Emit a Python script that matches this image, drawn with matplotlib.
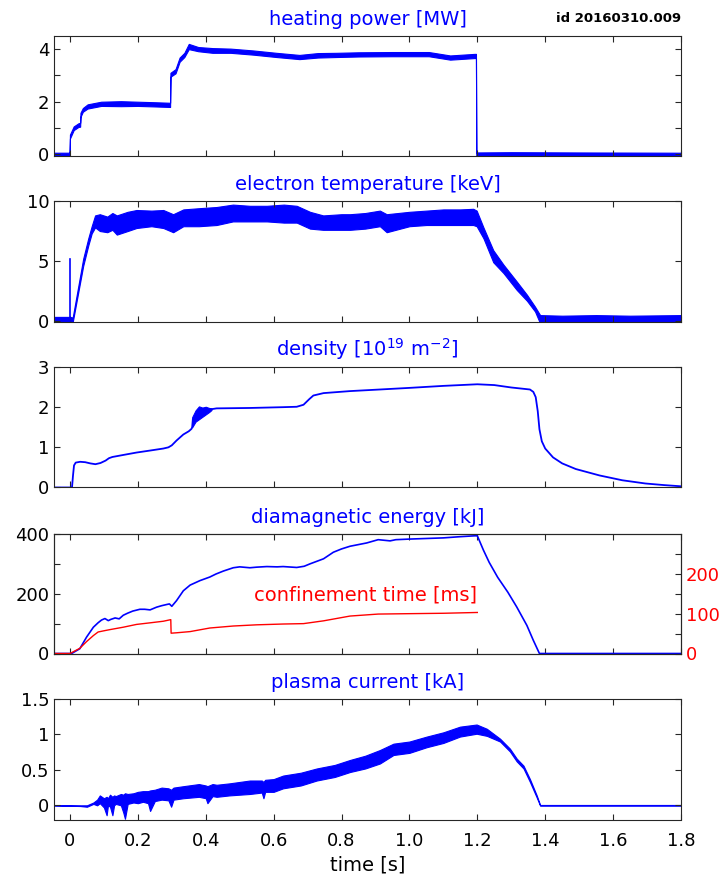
import numpy as np
import matplotlib
matplotlib.use('Agg')
import matplotlib.pyplot as plt

plt.rcParams['font.family'] = 'DejaVu Sans'

BLUE = '#0000ff'
RED = '#ff0000'
INK = '#262626'

# ── heating power [MW]: time, lower / upper edge of the noisy trace ──────────
p_t  = [-0.05, -0.001, 0.0, 0.011, 0.025, 0.030, 0.031, 0.038, 0.052, 0.092, 0.15,
        0.20, 0.25, 0.295, 0.296, 0.311, 0.323, 0.337, 0.350, 0.378, 0.42, 0.473,
        0.54, 0.608, 0.676, 0.73, 0.785, 0.85, 0.948, 1.057, 1.12, 1.192, 1.196,
        1.197, 1.3, 1.5, 1.8]
p_lo = [-0.06, -0.06, 0.6, 0.92, 1.04, 1.05, 1.42, 1.62, 1.74, 1.84, 1.83,
        1.84, 1.82, 1.80, 2.95, 3.08, 3.52, 3.70, 4.00, 3.92, 3.86, 3.86,
        3.79, 3.70, 3.62, 3.68, 3.70, 3.72, 3.73, 3.73, 3.60, 3.66, 3.66,
        -0.06, -0.07, -0.06, -0.06]
p_hi = [0.06, 0.06, 0.75, 1.06, 1.18, 1.20, 1.58, 1.76, 1.90, 2.00, 2.02,
        2.00, 1.98, 1.96, 3.10, 3.24, 3.68, 3.86, 4.20, 4.08, 4.04, 4.02,
        3.95, 3.86, 3.78, 3.85, 3.86, 3.88, 3.89, 3.89, 3.76, 3.82, 3.82,
        0.07, 0.08, 0.07, 0.06]

# ── electron temperature [keV] ───────────────────────────────────────────────
te_t  = [-0.05, 0.0, 0.008, 0.039, 0.054, 0.064, 0.074, 0.088, 0.11, 0.125, 0.138,
         0.17, 0.196, 0.24, 0.275, 0.304, 0.334, 0.38, 0.432, 0.48, 0.53, 0.58,
         0.63, 0.668, 0.707, 0.746, 0.80, 0.825, 0.87, 0.913, 0.933, 1.0, 1.05,
         1.10, 1.15, 1.188, 1.198, 1.218, 1.247, 1.277, 1.316, 1.346, 1.37,
         1.385, 1.45, 1.55, 1.65, 1.8]
te_lo = [-0.2, -0.2, -0.1, 4.6, 6.3, 7.3, 7.8, 7.5, 7.4, 7.6, 7.2,
         7.5, 7.75, 7.9, 7.75, 7.4, 7.9, 7.9, 8.0, 8.3, 8.3, 8.3,
         8.2, 8.2, 7.7, 7.6, 7.6, 7.6, 7.7, 7.9, 7.4, 7.9, 8.0,
         8.0, 8.0, 8.0, 7.9, 6.9, 4.9, 4.0, 2.6, 1.7, 0.8,
         -0.2, -0.2, -0.2, -0.2, -0.2]
te_hi = [0.35, 0.35, 0.3, 5.2, 6.9, 7.9, 8.8, 8.9, 8.7, 9.0, 8.8,
         9.1, 9.25, 9.2, 9.25, 8.9, 9.3, 9.4, 9.5, 9.7, 9.6, 9.6,
         9.7, 9.6, 9.1, 8.8, 8.9, 8.9, 9.0, 9.2, 8.9, 9.1, 9.2,
         9.3, 9.3, 9.35, 9.2, 7.8, 5.9, 4.7, 3.3, 2.2, 1.2,
         0.5, 0.45, 0.5, 0.45, 0.5]
te_spike_t = [0.0, 0.0]
te_spike_v = [0.0, 5.2]

# ── density [1e19 m^-2] ──────────────────────────────────────────────────────
ne_t = [-0.05, 0.006, 0.009, 0.012, 0.017, 0.03, 0.045, 0.06, 0.075, 0.09, 0.105,
        0.115, 0.125, 0.157, 0.196, 0.236, 0.275, 0.29, 0.30, 0.314, 0.334, 0.35,
        0.358, 0.36, 0.362, 0.417, 0.432, 0.53, 0.628, 0.668, 0.688, 0.705, 0.717,
        0.747, 0.825, 0.913, 1.0, 1.1, 1.2, 1.25, 1.30, 1.355, 1.365, 1.372,
        1.378, 1.383, 1.39, 1.40, 1.423, 1.45, 1.49, 1.56, 1.627, 1.695, 1.75, 1.8]
ne_v = [0.0, 0.0, 0.3, 0.55, 0.62, 0.64, 0.63, 0.60, 0.58, 0.61, 0.67,
        0.73, 0.76, 0.81, 0.87, 0.92, 0.97, 1.0, 1.05, 1.17, 1.32, 1.40,
        1.46, 1.50, 1.70, 1.95, 1.97, 1.98, 2.0, 2.01, 2.06, 2.2, 2.29,
        2.35, 2.40, 2.44, 2.48, 2.53, 2.57, 2.55, 2.49, 2.44, 2.38, 2.25,
        1.9, 1.45, 1.15, 0.97, 0.75, 0.60, 0.46, 0.30, 0.18, 0.10, 0.06, 0.03]
ne_noise_t  = [0.36, 0.37, 0.38, 0.39, 0.40, 0.41, 0.417]
ne_noise_lo = [1.50, 1.64, 1.70, 1.76, 1.82, 1.88, 1.93]
ne_noise_hi = [1.75, 1.92, 2.02, 1.99, 2.01, 1.98, 1.97]

# ── diamagnetic energy [kJ] and confinement time [ms] ────────────────────────
w_t = [-0.05, 0.005, 0.029, 0.049, 0.069, 0.083, 0.093, 0.103, 0.113, 0.12, 0.133,
       0.145, 0.157, 0.17, 0.185, 0.206, 0.22, 0.236, 0.255, 0.27, 0.285, 0.293,
       0.30, 0.314, 0.334, 0.354, 0.383, 0.412, 0.43, 0.452, 0.481, 0.50, 0.53,
       0.55, 0.58, 0.61, 0.628, 0.668, 0.69, 0.707, 0.747, 0.776, 0.80, 0.825,
       0.874, 0.908, 0.943, 0.96, 1.0, 1.05, 1.1, 1.149, 1.193, 1.20, 1.218,
       1.235, 1.26, 1.29, 1.316, 1.346, 1.365, 1.383, 1.8]
w_v = [0, 0, 16, 55, 88, 103, 112, 117, 110, 114, 119,
       116, 128, 135, 142, 148, 148, 146, 155, 160, 164, 166,
       158, 177, 210, 229, 244, 256, 266, 276, 287, 290, 287,
       289, 291, 290, 291, 288, 292, 300, 317, 339, 350, 359,
       370, 381, 377, 381, 383, 385, 387, 391, 394, 394, 346,
       305, 255, 205, 156, 94, 44, 0, 0]
tau_t = [-0.05, 0.0, 0.029, 0.049, 0.069, 0.083, 0.10, 0.118, 0.157, 0.196, 0.236,
         0.275, 0.297, 0.298, 0.314, 0.354, 0.412, 0.481, 0.55, 0.628, 0.688,
         0.747, 0.825, 0.908, 1.0, 1.1, 1.2]
tau_v = [0, 0, 13, 30, 45, 54, 57, 60, 66, 73, 77,
         81, 85, 51, 52, 55, 64, 69, 72, 74, 75,
         82, 94, 99, 100, 101, 103]

# ── plasma current [kA] ──────────────────────────────────────────────────────
ip_t  = [-0.05, 0.03, 0.05, 0.069, 0.08, 0.088, 0.10, 0.108, 0.112, 0.118, 0.125,
         0.13, 0.135, 0.15, 0.157, 0.162, 0.17, 0.187, 0.20, 0.215, 0.23, 0.236,
         0.25, 0.27, 0.29, 0.298, 0.305, 0.334, 0.38, 0.40, 0.405, 0.42, 0.432,
         0.47, 0.53, 0.565, 0.57, 0.575, 0.60, 0.628, 0.68, 0.727, 0.78, 0.825,
         0.87, 0.913, 0.953, 1.0, 1.051, 1.10, 1.149, 1.198, 1.228, 1.267, 1.296,
         1.316, 1.336, 1.355, 1.375, 1.385, 1.8]
ip_lo = [0.0, -0.01, -0.02, 0.02, 0.0, 0.03, -0.03, -0.14, 0.0, -0.02, -0.14,
         0.0, 0.02, 0.0, -0.10, -0.19, 0.02, 0.04, 0.03, 0.05, 0.03, -0.08,
         0.06, 0.08, 0.07, -0.02, 0.08, 0.10, 0.12, 0.10, 0.03, 0.13, 0.12,
         0.14, 0.16, 0.18, 0.10, 0.19, 0.19, 0.24, 0.28, 0.35, 0.40, 0.47,
         0.52, 0.59, 0.71, 0.74, 0.82, 0.88, 0.97, 1.01, 0.98, 0.90, 0.76,
         0.62, 0.52, 0.33, 0.11, -0.005, -0.005]
ip_hi = [0.0, 0.0, 0.0, 0.04, 0.08, 0.14, 0.10, 0.12, 0.10, 0.15, 0.12,
         0.14, 0.13, 0.16, 0.15, 0.17, 0.16, 0.17, 0.19, 0.20, 0.20, 0.21,
         0.22, 0.25, 0.24, 0.22, 0.25, 0.27, 0.30, 0.28, 0.27, 0.30, 0.29,
         0.31, 0.35, 0.35, 0.33, 0.36, 0.37, 0.42, 0.46, 0.52, 0.57, 0.64,
         0.70, 0.78, 0.87, 0.90, 0.97, 1.03, 1.11, 1.14, 1.08, 0.94, 0.80,
         0.66, 0.56, 0.37, 0.14, 0.005, 0.005]

x_ticks = [0, 0.2, 0.4, 0.6, 0.8, 1.0, 1.2, 1.4, 1.6, 1.8]
x_labels = ['0', '0.2', '0.4', '0.6', '0.8', '1.0', '1.2', '1.4', '1.6', '1.8']

fig = plt.figure(figsize=(7.23, 8.76), dpi=100)
L, W = 54 / 723, 627 / 723
# (top px, bottom px) of each panel in the 723x876 frame
rows = [(36, 155.6), (201, 321.7), (367, 487.5), (534, 653.5), (699, 819.5)]
axes = [fig.add_axes([L, 1 - b / 876, W, (b - t) / 876]) for t, b in rows]


def style(ax, title, yticks, ylabels, ylim, last=False):
    ax.set_xlim(-0.047, 1.8)
    ax.set_ylim(*ylim)
    ax.set_xticks(x_ticks)
    ax.set_xticklabels(x_labels if last else [])
    ax.set_yticks(yticks)
    ax.set_yticklabels(ylabels)
    ax.tick_params(direction='in', top=True, right=True, length=4, width=0.8,
                   color=INK, labelcolor='black', labelsize=13)
    ax.tick_params(axis='x', pad=9)
    for s in ax.spines.values():
        s.set_color(INK); s.set_linewidth(0.8)
    ax.set_title(title, color=BLUE, fontsize=14, pad=8)


def band(ax, t, lo, hi):
    ax.fill_between(t, lo, hi, color=BLUE, lw=0.8, edgecolor=BLUE)


ax1, ax2, ax3, ax4, ax5 = axes

band(ax1, p_t, p_lo, p_hi)
style(ax1, 'heating power [MW]', [0, 1, 2, 3, 4], ['0', '', '2', '', '4'], (-0.05, 4.5))
fig.text(681 / 723, 1 - 19 / 876, 'id 20160310.009', ha='right', va='center',
         fontsize=9.5, fontweight='bold', color='black')

band(ax2, te_t, te_lo, te_hi)
ax2.plot(te_spike_t, te_spike_v, color=BLUE, lw=1.2)
style(ax2, 'electron temperature [keV]', [0, 5, 10], ['0', '5', '10'], (-0.05, 10))

ax3.plot(ne_t, ne_v, color=BLUE, lw=1.3)
band(ax3, ne_noise_t, ne_noise_lo, ne_noise_hi)
style(ax3, 'density [10$^{19}$ m$^{-2}$]', [0, 1, 2, 3], ['0', '1', '2', '3'], (0, 3))

ax4.plot(w_t, w_v, color=BLUE, lw=1.2)
style(ax4, 'diamagnetic energy [kJ]', [0, 100, 200, 300, 400],
      ['0', '', '200', '', '400'], (0, 400))
ax4.tick_params(right=False)
ax4r = ax4.twinx()
ax4r.plot(tau_t, tau_v, color=RED, lw=1.0)
ax4r.set_ylim(0, 300)
ax4r.set_yticks([0, 50, 100, 150, 200, 250])
ax4r.set_yticklabels(['0', '', '100', '', '200', ''])
ax4r.tick_params(direction='in', length=4, width=0.8, color=INK,
                 labelcolor=RED, labelsize=13)
for s in ax4r.spines.values():
    s.set_color(INK); s.set_linewidth(0.8)
ax4r.text(1.2, 147, 'confinement time [ms]', color=RED, fontsize=14,
          ha='right', va='center')

band(ax5, ip_t, ip_lo, ip_hi)
style(ax5, 'plasma current [kA]', [0, 0.5, 1, 1.5], ['0', '0.5', '1', '1.5'],
      (-0.2, 1.5), last=True)
ax5.set_xlabel('time [s]', fontsize=14, labelpad=4)

fig.savefig('out.png', dpi=100)
